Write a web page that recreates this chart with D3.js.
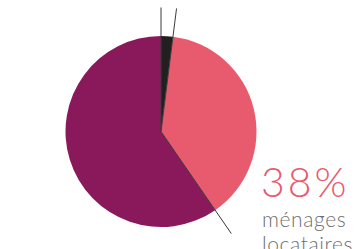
<!DOCTYPE html>
<html>
<head>
<meta charset="utf-8">
<script src="https://cdn.jsdelivr.net/npm/d3@7"></script>
<style>
  body { margin: 0; background: #fff; }
  svg { display: block; }
</style>
</head>
<body>
<script>
// data
var categories = ["autres", "ménages locataires", "ménages propriétaires"];
var shares = [2, 38.4, 59.6];
var colours = ["#231f20", "#e85a6e", "#8a195c"];
var bigLabel = "38%";
var subLabel = ["ménages", "locataires"];

var width = 362, height = 249;
var centre = {x: 161, y: 131.5};
var radius = 95.5;
var leaderLength = 124;

var svg = d3.select("body")
            .append("svg")
            .attr("width", width)
            .attr("height", height);

// cropped title above, only descenders visible
svg.selectAll(".cut")
   .data([8, 44])
   .enter()
   .append("text")
   .attr("class", "cut")
   .attr("x", function(d) { return d; })
   .attr("y", -3)
   .style("font-family", "Lato")
   .style("font-weight", 300)
   .style("font-size", "18px")
   .style("fill", "#6d6e71")
   .text("p");

var pie = d3.pie().sort(null).value(function(d) { return d; });
var arcs = pie(shares);
var arc = d3.arc().innerRadius(0).outerRadius(radius);

var g = svg.append("g")
           .attr("transform", "translate(" + [centre.x, centre.y] + ")");

g.selectAll("path")
 .data(arcs)
 .enter()
 .append("path")
 .attr("d", arc)
 .attr("fill", function(d, i) { return colours[i]; });

// leader lines along slice edges
var edges = [arcs[0].startAngle, arcs[0].endAngle, arcs[1].endAngle];
g.selectAll("line")
 .data(edges)
 .enter()
 .append("line")
 .attr("x1", 0)
 .attr("y1", 0)
 .attr("x2", function(a) { return Math.sin(a) * leaderLength; })
 .attr("y2", function(a) { return -Math.cos(a) * leaderLength; })
 .attr("stroke", "#3a3a3a")
 .attr("stroke-width", 1);

// label
svg.append("text")
   .attr("x", 261)
   .attr("y", 197)
   .style("font-family", "Lato")
   .style("font-weight", 300)
   .style("font-size", "41px")
   .style("letter-spacing", "3px")
   .style("fill", colours[1])
   .text(bigLabel);

svg.selectAll(".sub")
   .data(subLabel)
   .enter()
   .append("text")
   .attr("class", "sub")
   .attr("x", 262)
   .attr("y", function(d, i) { return 227 + i * 25; })
   .style("font-family", "Lato")
   .style("font-weight", 300)
   .style("font-size", "21px")
   .style("letter-spacing", "0.6px")
   .style("fill", "#6d6e71")
   .text(function(d) { return d; });
</script>
</body>
</html>
